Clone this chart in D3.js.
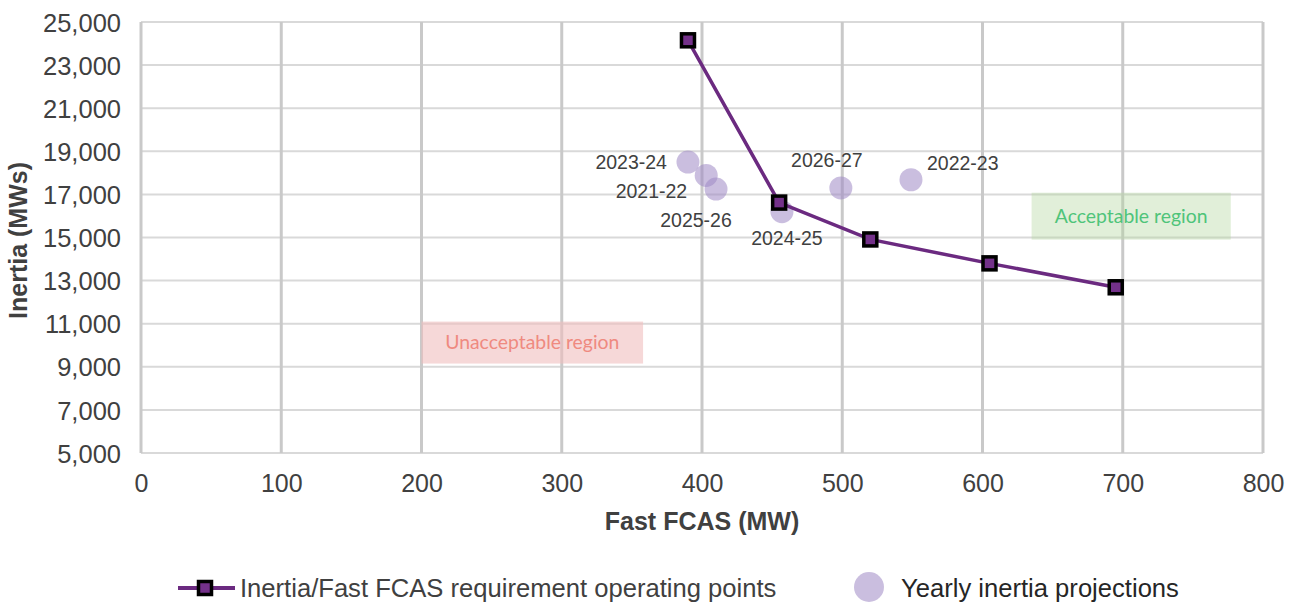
<!DOCTYPE html>
<html>
<head>
<meta charset="utf-8">
<script src="https://cdn.jsdelivr.net/npm/d3@7"></script>
<style>
  html, body { margin: 0; padding: 0; background: #ffffff; }
  svg { display: block; }
</style>
</head>
<body>
<div id="chart"></div>
<script>
// ---------- data ----------
const reqFcas    = [390, 455, 520, 605, 695];
const reqInertia = [24150, 16620, 14910, 13800, 12690];

const projYears   = ["2023-24", "2021-22", "2025-26", "2024-25", "2026-27", "2022-23"];
const projFcas    = [390, 403, 410, 457, 499, 549];
const projInertia = [18500, 17880, 17250, 16200, 17300, 17680];

const xTickValues = [0, 100, 200, 300, 400, 500, 600, 700, 800];
const yTickValues = [5000, 7000, 9000, 11000, 13000, 15000, 17000, 19000, 21000, 23000, 25000];

const xTitle = "Fast FCAS (MW)";
const yTitle = "Inertia (MWs)";
const legendLabels = ["Inertia/Fast FCAS requirement operating points", "Yearly inertia projections"];
const regionLabels = ["Unacceptable region", "Acceptable region"];
// region extents in data units [x0, x1, y0, y1]
const unacceptableBox = [200, 358, 9150, 11100];
const acceptableBox   = [635, 777, 14900, 17080];

// ---------- layout ----------
const W = 1299, H = 603;
const plot = { left: 141, right: 1263, top: 22, bottom: 453 };
const font = "'Liberation Sans', Arial, sans-serif";
const textColor = "#404040";

const svg = d3.select("#chart").append("svg")
  .attr("width", W).attr("height", H);

const x = d3.scaleLinear().domain([0, 800]).range([plot.left, plot.right]);
const y = d3.scaleLinear().domain([5000, 25000]).range([plot.bottom, plot.top]);

// horizontal grid
svg.append("g")
  .selectAll("line").data(yTickValues).join("line")
  .attr("x1", plot.left).attr("x2", plot.right)
  .attr("y1", d => y(d)).attr("y2", d => y(d))
  .attr("stroke", "#d9d9d9").attr("stroke-width", 2);

// vertical grid
svg.append("g")
  .selectAll("line").data(xTickValues).join("line")
  .attr("x1", d => x(d)).attr("x2", d => x(d))
  .attr("y1", plot.top).attr("y2", plot.bottom)
  .attr("stroke", "#c9c9c9").attr("stroke-width", 3);

// axes (labels only)
const xAxis = d3.axisBottom(x).tickValues(xTickValues).tickSize(0).tickPadding(0).tickFormat(d3.format("d"));
const gx = svg.append("g").attr("transform", `translate(0,${plot.bottom})`).call(xAxis);
gx.select(".domain").remove();
gx.selectAll("text")
  .attr("y", 39).attr("dy", 0)
  .style("font-family", font).style("font-size", "25px").attr("fill", textColor);

const yAxis = d3.axisLeft(y).tickValues(yTickValues).tickSize(0).tickPadding(0).tickFormat(d3.format(","));
const gy = svg.append("g").attr("transform", `translate(${plot.left - 20},0)`).call(yAxis);
gy.select(".domain").remove();
gy.selectAll("text")
  .attr("x", 0).attr("dy", "0.36em")
  .style("font-family", font).style("font-size", "25.5px").attr("fill", textColor);

// axis titles
svg.append("text")
  .attr("x", (plot.left + plot.right) / 2).attr("y", 530)
  .attr("text-anchor", "middle")
  .style("font-family", font).style("font-size", "25px").style("font-weight", "bold")
  .attr("fill", textColor).text(xTitle);

svg.append("text")
  .attr("transform", `translate(27,${(plot.top + plot.bottom) / 2 + 3}) rotate(-90)`)
  .attr("text-anchor", "middle")
  .style("font-family", font).style("font-size", "25px").style("font-weight", "bold")
  .attr("fill", textColor).text(yTitle);

// region boxes
const regionFont = "Lato, 'Open Sans', sans-serif";
function regionBox(box, label, fill, opacity, tcolor, size) {
  const g = svg.append("g");
  g.append("rect")
    .attr("x", x(box[0])).attr("y", y(box[3]))
    .attr("width", x(box[1]) - x(box[0])).attr("height", y(box[2]) - y(box[3]))
    .attr("fill", fill).attr("fill-opacity", opacity);
  g.append("text")
    .attr("x", (x(box[0]) + x(box[1])) / 2).attr("y", (y(box[2]) + y(box[3])) / 2)
    .attr("dy", "0.35em").attr("text-anchor", "middle")
    .style("font-family", regionFont).style("font-size", size)
    .attr("fill", tcolor).text(label);
}
regionBox(unacceptableBox, regionLabels[0], "#f0bebe", 0.6, "#ef8a80", "19.4px");
regionBox(acceptableBox, regionLabels[1], "#b4d7a0", 0.4, "#4fc47a", "19.4px");

// projections (circles)
const projData = projYears.map((k, i) => ({ year: k, fcas: projFcas[i], inertia: projInertia[i] }));
svg.append("g")
  .selectAll("circle").data(projData).join("circle")
  .attr("cx", d => x(d.fcas)).attr("cy", d => y(d.inertia))
  .attr("r", 11.5)
  .attr("fill", "#9e88c4").attr("fill-opacity", 0.55);

// label placement offsets (pixels) and anchors
const labelPlacement = {
  "2023-24": { dx: -21, dy: 0, anchor: "end" },
  "2021-22": { dx: -19, dy: 16, anchor: "end" },
  "2025-26": { dx: -20, dy: 31, anchor: "middle" },
  "2024-25": { dx: 5, dy: 27, anchor: "middle" },
  "2026-27": { dx: -14, dy: -28, anchor: "middle" },
  "2022-23": { dx: 16, dy: -17, anchor: "start" }
};
svg.append("g")
  .selectAll("text").data(projData).join("text")
  .attr("x", d => x(d.fcas) + labelPlacement[d.year].dx)
  .attr("y", d => y(d.inertia) + labelPlacement[d.year].dy)
  .attr("dy", "0.35em")
  .attr("text-anchor", d => labelPlacement[d.year].anchor)
  .style("font-family", font).style("font-size", "19.5px")
  .attr("fill", textColor).text(d => d.year);

// requirement line
const reqData = reqFcas.map((f, i) => ({ fcas: f, inertia: reqInertia[i] }));
const lineColor = "#6b2a80";
svg.append("path")
  .datum(reqData)
  .attr("d", d3.line().x(d => x(d.fcas)).y(d => y(d.inertia)))
  .attr("fill", "none").attr("stroke", lineColor).attr("stroke-width", 3.5);

const sq = 13;
svg.append("g")
  .selectAll("rect").data(reqData).join("rect")
  .attr("x", d => x(d.fcas) - sq / 2).attr("y", d => y(d.inertia) - sq / 2)
  .attr("width", sq).attr("height", sq)
  .attr("fill", "#74318a").attr("stroke", "#000").attr("stroke-width", 3.5);

// legend
const lg = svg.append("g");
const ly = 588;
lg.append("line").attr("x1", 178).attr("x2", 235).attr("y1", ly).attr("y2", ly)
  .attr("stroke", lineColor).attr("stroke-width", 4);
lg.append("rect").attr("x", 205 - sq / 2).attr("y", ly - sq / 2).attr("width", sq).attr("height", sq)
  .attr("fill", "#74318a").attr("stroke", "#000").attr("stroke-width", 3.5);
lg.append("text").attr("x", 240).attr("y", ly).attr("dy", "0.35em")
  .style("font-family", font).style("font-size", "25.6px").attr("fill", textColor)
  .text(legendLabels[0]);
lg.append("circle").attr("cx", 869).attr("cy", ly - 1).attr("r", 15)
  .attr("fill", "#9e88c4").attr("fill-opacity", 0.55);
lg.append("text").attr("x", 901).attr("y", ly).attr("dy", "0.35em")
  .style("font-family", font).style("font-size", "25.6px").attr("fill", "#262626")
  .text(legendLabels[1]);
</script>
</body>
</html>
